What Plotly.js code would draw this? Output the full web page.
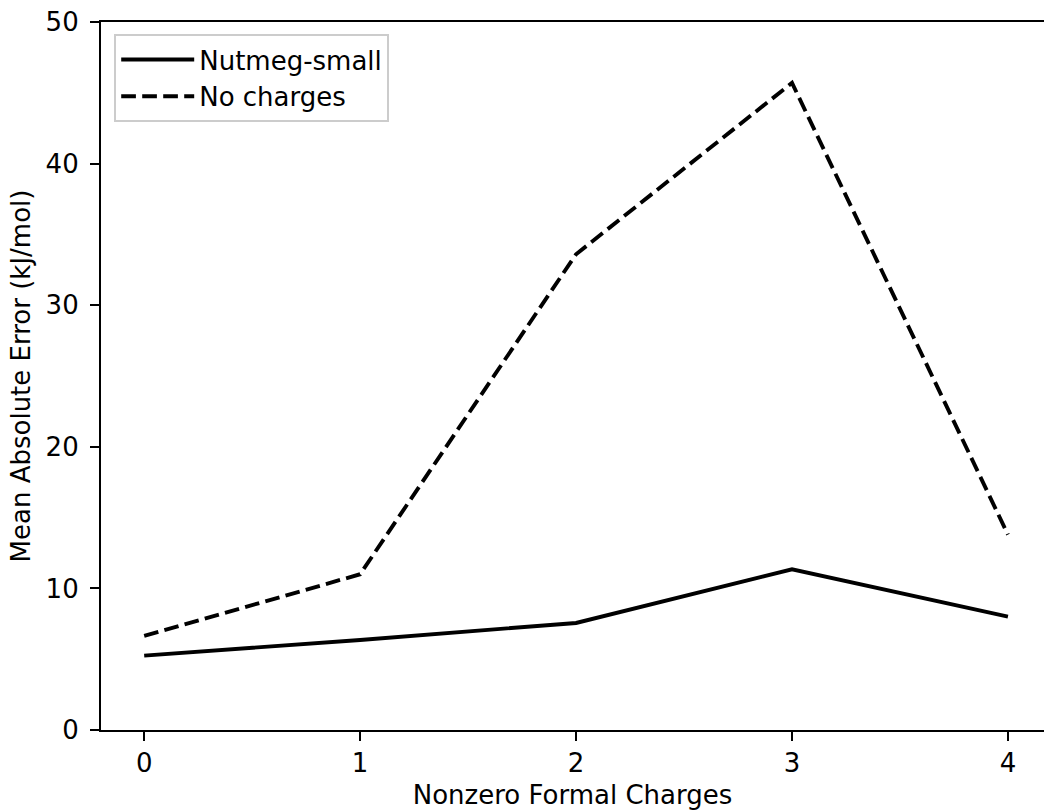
<!DOCTYPE html>
<html>
<head>
<meta charset="utf-8">
<script src="https://cdn.plot.ly/plotly-3.0.1.min.js"></script>
<style>html,body{margin:0;padding:0;background:#fff;}#chart{width:1044px;height:810px;}</style>
</head>
<body>
<div id="chart"></div>
<script>
const charges = [0, 1, 2, 3, 4];
const nutmegSmall = [5.25, 6.36, 7.56, 11.35, 8.0];
const noCharges = [6.64, 11.0, 33.6, 45.7, 13.8];
const yTicks = [0, 10, 20, 30, 40, 50];

const font = {family: 'DejaVu Sans, sans-serif', size: 26, color: '#000'};

const traces = [
  {x: charges, y: nutmegSmall, type: 'scatter', mode: 'lines', name: 'Nutmeg-small',
   line: {color: '#000', width: 3.9}},
  {x: charges, y: noCharges, type: 'scatter', mode: 'lines', name: 'No charges',
   line: {color: '#000', width: 3.9, dash: '14.7px,6.3px'}}
];

const layout = {
  width: 1044, height: 810,
  margin: {l: 101, r: 0, t: 22, b: 80},
  paper_bgcolor: '#fff', plot_bgcolor: '#fff',
  font: font,
  showlegend: true,
  legend: {x: 0.014, y: 0.983, xanchor: 'left', yanchor: 'top', itemwidth: 73,
           bgcolor: 'rgba(255,255,255,0.8)', bordercolor: '#cccccc', borderwidth: 2,
           font: font},
  xaxis: {range: [-0.2, 4.167], tickvals: charges, ticktext: charges.map(String),
          showgrid: false, zeroline: false, showline: true, mirror: true, linecolor: '#000', linewidth: 2.1,
          ticks: 'outside', ticklen: 9, tickwidth: 2.1, tickcolor: '#000', ticklabelstandoff: 0,
          title: {text: 'Nonzero Formal Charges', font: font, standoff: 10}},
  yaxis: {range: [0, 50], tickvals: yTicks, ticktext: yTicks.map(String),
          showgrid: false, zeroline: false, showline: true, mirror: false, linecolor: '#000', linewidth: 2.1,
          ticks: 'outside', ticklen: 9, tickwidth: 2.1, tickcolor: '#000', ticklabelstandoff: 6,
          title: {text: 'Mean Absolute Error (kJ/mol)', font: font, standoff: 8}}
};

Plotly.newPlot('chart', traces, layout, {displayModeBar: false, staticPlot: true});
</script>
</body>
</html>
